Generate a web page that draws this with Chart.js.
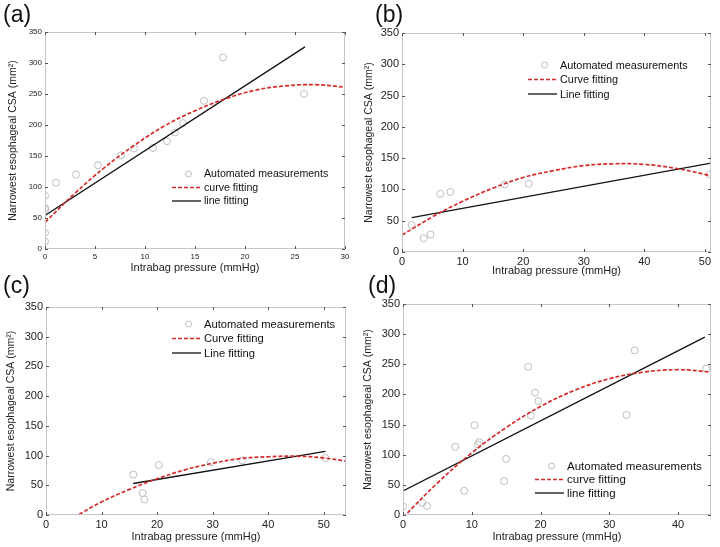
<!DOCTYPE html>
<html>
<head>
<meta charset="utf-8">
<script src="https://cdn.jsdelivr.net/npm/chart.js@4.4.1/dist/chart.umd.min.js"></script>
<style>
  body { margin: 0; background: #fff; }
  #wrap { position: relative; width: 720px; height: 547px; overflow: hidden; }
  .panel { position: absolute; }
  .tag { position: absolute; font: 23px Arial, "Liberation Sans", sans-serif; color: #111; }
</style>
</head>
<body>
<div id="wrap">
  <canvas id="ca" class="panel" style="left:0;top:0" width="360" height="280"></canvas>
  <canvas id="cb" class="panel" style="left:360px;top:0" width="360" height="280"></canvas>
  <canvas id="cc" class="panel" style="left:0;top:270px" width="360" height="277"></canvas>
  <canvas id="cd" class="panel" style="left:360px;top:270px" width="360" height="277"></canvas>
  <div class="tag" style="left:3px;top:1px">(a)</div>
  <div class="tag" style="left:375px;top:1px">(b)</div>
  <div class="tag" style="left:3px;top:272px">(c)</div>
  <div class="tag" style="left:368px;top:272px">(d)</div>
</div>
<script>
// y ticks shared by all panels
const yTicks = [0, 50, 100, 150, 200, 250, 300, 350];

// panel (a)
const xTicksA = [0, 5, 10, 15, 20, 25, 30];
const ptsXA = [0, 0, 0, 0, 0, 1.1, 3.1, 5.3, 7.6, 8.9, 10.8, 12.2, 13, 13.8, 15.9, 17.8, 25.9];
const ptsYA = [86, 66, 64, 26, 12, 107, 120, 135, 151, 162, 163, 174, 188, 203, 239, 309, 250];
const curveXA = [0, 3, 6, 9, 12, 15, 18, 21, 24, 27, 30];
const curveYA = [43, 90, 132, 168, 199, 223, 242, 256, 263, 265, 261];
const lineXA = [0, 26];
const lineYA = [54, 326];

// panel (b)
const xTicksB = [0, 10, 20, 30, 40, 50];
const ptsXB = [1.6, 3.6, 4.7, 6.3, 8.0, 16.9, 20.9, 50.8];
const ptsYB = [43, 22, 28, 93, 96, 108, 109, 124];
const curveXB = [0, 5, 10, 15, 20, 25, 30, 35, 40, 45, 50, 51];
const curveYB = [27, 56, 81, 102, 119, 130, 138, 141, 140, 134, 124, 121];
const lineXB = [1.6, 51];
const lineYB = [55, 142];

// panel (c)
const xTicksC = [0, 10, 20, 30, 40, 50];
const ptsXC = [15.7, 17.4, 17.7, 20.3, 29.7, 35.3, 50.3];
const ptsYC = [68, 37, 26, 84, 89, 92, 96];
const curveXC = [5, 10, 15, 20, 25, 30, 35, 40, 45, 50, 55];
const curveYC = [-4, 22, 43, 61, 76, 87, 95, 98, 99, 96, 89];
const lineXC = [15.7, 50.3];
const lineYC = [53, 107];

// panel (d)
const xTicksD = [0, 10, 20, 30, 40];
const ptsXD = [0, 2.8, 3.5, 7.6, 8.9, 10.4, 10.9, 11.1, 14.7, 15.0, 18.2, 18.6, 19.2, 19.7, 32.5, 33.7, 44.1];
const ptsYD = [14, 20, 15, 113, 40, 149, 117, 121, 56, 93, 246, 165, 203, 189, 166, 273, 243];
const curveXD = [0, 5, 10, 15, 20, 25, 30, 35, 40, 45];
const curveYD = [-4, 53, 103, 145, 180, 207, 226, 237, 241, 237];
const lineXD = [0, 43.9];
const lineYD = [40, 295];

const FONT = 'Arial, "Liberation Sans", Helvetica, sans-serif';
const xy = (xs, ys) => xs.map((x, i) => ({ x, y: ys[i] }));

// box, inward ticks and in-plot legend (matlab look)
const boxPlugin = {
  id: 'box',
  afterDraw(chart, args, opts) {
    const { ctx, chartArea: a, scales: { x, y } } = chart;
    ctx.save();
    ctx.strokeStyle = '#c6c6c6';
    ctx.lineWidth = 1;
    ctx.strokeRect(a.left + 0.5, a.top + 0.5, a.width - 1, a.height - 1);
    ctx.strokeStyle = '#555';
    ctx.beginPath();
    x.ticks.forEach(t => {
      const px = Math.round(x.getPixelForValue(t.value)) + 0.5;
      ctx.moveTo(px, a.bottom); ctx.lineTo(px, a.bottom - 3);
      ctx.moveTo(px, a.top); ctx.lineTo(px, a.top + 3);
    });
    y.ticks.forEach(t => {
      const py = Math.round(y.getPixelForValue(t.value)) + 0.5;
      ctx.moveTo(a.left, py); ctx.lineTo(a.left + 3, py);
      ctx.moveTo(a.right, py); ctx.lineTo(a.right - 3, py);
    });
    ctx.stroke();

    const len = 29;
    ctx.font = opts.fontSize + 'px ' + FONT;
    ctx.textBaseline = 'middle';
    ctx.textAlign = 'left';
    chart.data.datasets.forEach((ds, i) => {
      const lx = a.left + opts.lx;
      const ly = a.top + opts.ly + i * opts.gap;
      if (ds.showLine) {
        ctx.strokeStyle = ds.borderColor;
        ctx.lineWidth = ds.borderWidth;
        ctx.setLineDash(ds.borderDash || []);
        ctx.beginPath(); ctx.moveTo(lx, ly); ctx.lineTo(lx + len, ly); ctx.stroke();
        ctx.setLineDash([]);
      } else {
        ctx.strokeStyle = ds.borderColor;
        ctx.lineWidth = 1;
        ctx.beginPath(); ctx.arc(lx + len / 2 + 2, ly, 3, 0, Math.PI * 2); ctx.stroke();
      }
      ctx.fillStyle = '#111';
      ctx.fillText(ds.label, lx + len + 3, ly + 0.5);
    });
    ctx.restore();
  }
};

const makePanel = (id, cfg) => {
  const el = document.getElementById(id);
  new Chart(el.getContext('2d'), {
    type: 'scatter',
    data: {
      datasets: [
        {
          label: 'Automated measurements', data: xy(cfg.px, cfg.py), order: 3,
          borderColor: '#bdbdbd', backgroundColor: 'rgba(0,0,0,0)', borderWidth: 1,
          pointRadius: cfg.ptR, pointHoverRadius: cfg.ptR
        },
        {
          label: cfg.names[0], data: xy(cfg.cx, cfg.cy), order: 1, showLine: true,
          borderColor: '#d42b2b', borderWidth: 1.7, borderDash: [4, 2], pointRadius: 0, tension: 0.4
        },
        {
          label: cfg.names[1], data: xy(cfg.lx, cfg.ly), order: 2, showLine: true,
          borderColor: '#111', borderWidth: 1.3, pointRadius: 0
        }
      ]
    },
    options: {
      responsive: false,
      animation: false,
      events: [],
      layout: { padding: cfg.pad },
      plugins: {
        legend: { display: false },
        tooltip: { enabled: false },
        box: cfg.legend
      },
      scales: {
        x: {
          type: 'linear', min: 0, max: cfg.xMax,
          afterBuildTicks: s => { s.ticks = cfg.xTicks.map(v => ({ value: v })); },
          afterFit: s => { s.height = cfg.xH; },
          grid: { display: false, drawTicks: false }, border: { display: false },
          ticks: { color: '#222', padding: 3, maxRotation: 0, font: { family: FONT, size: cfg.tickSize } },
          title: { display: true, text: 'Intrabag pressure (mmHg)', color: '#222', padding: { top: 2, bottom: 2 }, font: { family: FONT, size: 11 } }
        },
        y: {
          type: 'linear', min: 0, max: 350,
          afterBuildTicks: s => { s.ticks = yTicks.map(v => ({ value: v })); },
          afterFit: s => { s.width = cfg.yW; },
          grid: { display: false, drawTicks: false }, border: { display: false },
          ticks: { color: '#222', padding: 3, font: { family: FONT, size: cfg.tickSize } },
          title: { display: true, text: 'Narrowest esophageal CSA (mm²)', color: '#222', padding: { top: 2, bottom: 2 }, font: { family: FONT, size: 10.5 } }
        }
      }
    },
    plugins: [boxPlugin]
  });
};

const init = () => {
  makePanel('ca', {
    px: ptsXA, py: ptsYA, cx: curveXA, cy: curveYA, lx: lineXA, ly: lineYA,
    names: ['curve fitting', 'line fitting'], xTicks: xTicksA, xMax: 30, ptR: 3.5, tickSize: 8,
    pad: { left: 5, right: 15, top: 32, bottom: 3 }, yW: 40, xH: 28,
    legend: { lx: 127, ly: 142, gap: 13.5, fontSize: 10.6 }
  });
  makePanel('cb', {
    px: ptsXB, py: ptsYB, cx: curveXB, cy: curveYB, lx: lineXB, ly: lineYB,
    names: ['Curve fitting', 'Line fitting'], xTicks: xTicksB, xMax: 51, ptR: 3.5, tickSize: 11,
    pad: { left: 1, right: 9, top: 33, bottom: 0 }, yW: 41, xH: 28,
    legend: { lx: 126, ly: 32, gap: 14.5, fontSize: 10.9 }
  });
  makePanel('cc', {
    px: ptsXC, py: ptsYC, cx: curveXC, cy: curveYC, lx: lineXC, ly: lineYC,
    names: ['Curve fitting', 'Line fitting'], xTicks: xTicksC, xMax: 54, ptR: 3.5, tickSize: 11,
    pad: { left: 3, right: 14, top: 37, bottom: 1 }, yW: 43, xH: 31,
    legend: { lx: 126, ly: 17, gap: 14.5, fontSize: 11.2 }
  });
  makePanel('cd', {
    px: ptsXD, py: ptsYD, cx: curveXD, cy: curveYD, lx: lineXD, ly: lineYD,
    names: ['curve fitting', 'line fitting'], xTicks: xTicksD, xMax: 44.8, ptR: 3.5, tickSize: 11,
    pad: { left: 0, right: 9, top: 34, bottom: 1 }, yW: 43, xH: 31,
    legend: { lx: 132, ly: 162, gap: 13.5, fontSize: 11.5 }
  });
};

document.addEventListener('DOMContentLoaded', init);
</script>
</body>
</html>
